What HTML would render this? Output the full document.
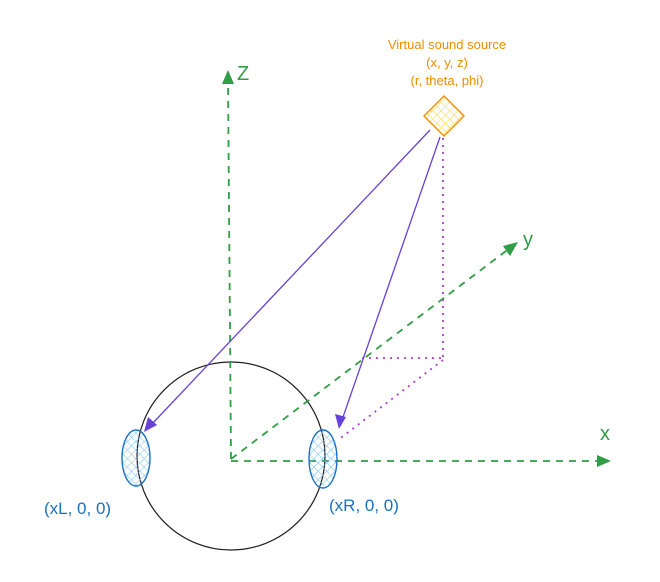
<!DOCTYPE html>
<html><head><style>
html,body{margin:0;padding:0;background:#fff;}
svg{display:block;}
text{font-family:"Liberation Sans",sans-serif;}
</style></head><body>
<svg width="660" height="582" viewBox="0 0 660 582" xmlns="http://www.w3.org/2000/svg">
<defs>
<pattern id="hx" width="6" height="6" patternUnits="userSpaceOnUse" patternTransform="rotate(45)">
<path d="M0 0H6M0 0V6" stroke="#74c0fc" stroke-width="1"/>
</pattern>
<pattern id="hy" width="6" height="6" patternUnits="userSpaceOnUse" patternTransform="rotate(45)">
<path d="M0 0H6M0 0V6" stroke="#ffd43b" stroke-width="1"/>
</pattern>
</defs>
<circle cx="231" cy="456" r="94" fill="none" stroke="#1e1e1e" stroke-width="1.2"/>
<g stroke="#2f9e44" stroke-width="1.8" stroke-dasharray="7 6" fill="none">
<line x1="231" y1="459" x2="228" y2="80"/>
<line x1="231" y1="461" x2="600" y2="461"/>
<line x1="231" y1="459" x2="510" y2="248"/>
</g>
<g fill="#2f9e44">
<path d="M228 70 L222 84 L234 84 Z"/>
<path d="M611 461 L597 455 L597 467 Z"/>
<path d="M518 242 L503 246 L510 256 Z"/>
</g>
<text x="237" y="80" font-size="20" fill="#2f9e44">Z</text>
<text x="600" y="440" font-size="20" fill="#2f9e44">x</text>
<text x="523" y="246" font-size="20" fill="#2f9e44">y</text>
<g stroke="#ae3ec9" stroke-width="1.8" stroke-dasharray="2 5" fill="none">
<line x1="443" y1="138" x2="443" y2="358"/>
<line x1="362" y1="358" x2="443" y2="358"/>
<line x1="443" y1="360" x2="338" y2="440"/>
</g>
<g stroke="#6741d9" stroke-width="1.3" fill="none">
<line x1="430" y1="130" x2="152" y2="424"/>
<line x1="440" y1="137" x2="342" y2="420"/>
</g>
<g fill="#6741d9">
<path d="M144 432 L148 417 L157 425 Z"/>
<path d="M339 429 L335 414 L346 417 Z"/>
</g>
<ellipse cx="136" cy="458" rx="14" ry="28" fill="url(#hx)" stroke="#1971c2" stroke-width="1.4"/>
<ellipse cx="323" cy="459" rx="14" ry="29" fill="url(#hx)" stroke="#1971c2" stroke-width="1.4"/>
<text x="44" y="514" font-size="17" fill="#1971c2">(xL, 0, 0)</text>
<text x="329" y="511" font-size="17" fill="#1971c2">(xR, 0, 0)</text>
<path d="M444 96 L464 116 L444 136 L424 116 Z" fill="url(#hy)" stroke="#f08c00" stroke-width="1.4"/>
<g font-size="13" fill="#f08c00" text-anchor="middle">
<text x="447" y="49">Virtual sound source</text>
<text x="447" y="67">(x, y, z)</text>
<text x="447" y="85">(r, theta, phi)</text>
</g>
</svg>
</body></html>
